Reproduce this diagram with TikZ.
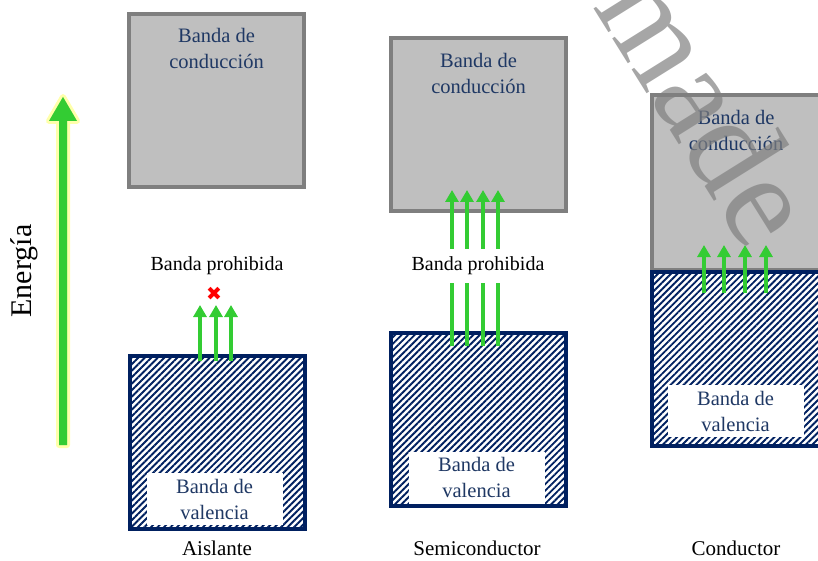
\documentclass[tikz,border=0pt]{standalone}
\usepackage{fontspec}
\setmainfont{Liberation Serif}
\usetikzlibrary{arrows.meta,patterns.meta}
\definecolor{navy}{HTML}{002060}
\definecolor{txtblue}{HTML}{1F3864}
\definecolor{bandgray}{HTML}{BFBFBF}
\definecolor{edgegray}{HTML}{7F7F7F}
\definecolor{arrgreen}{HTML}{33CC33}
\definecolor{glow}{HTML}{FFFF66}
\newfontfamily\symfont{DejaVu Sans}
\begin{document}
\begin{tikzpicture}[x=1pt,y=-1pt,
  condband/.style={draw=edgegray, line width=4pt, fill=bandgray, minimum width=175pt, minimum height=173pt, inner sep=0pt, outer sep=0pt, anchor=north west},
  valband/.style={draw=navy, line width=4pt, pattern={Lines[angle=45,distance=4.6pt,line width=1.9pt]}, pattern color=navy, minimum width=175pt, minimum height=173pt, inner sep=0pt, outer sep=0pt, anchor=north west},
  bandtext/.style={text=txtblue, align=center, inner sep=0pt, font=\fontsize{20.5}{26}\selectfont},
  vallabel/.style={bandtext, fill=white, minimum width=136pt, minimum height=52pt},
  gaplabel/.style={fill=white, inner sep=0pt, minimum width=150pt, minimum height=34pt, font=\fontsize{20}{22}\selectfont},
  matlabel/.style={inner sep=0pt, font=\fontsize{21}{23}\selectfont},
  elec/.style={draw=arrgreen, line width=4pt, -{Triangle[width=13pt,length=12pt]}},
]
\useasboundingbox (0,0) rectangle (818,561);

% Energy axis
\coordinate (ebot) at (63,445);
\coordinate (etop) at (63,97);
\path[draw=glow, line width=6pt, line join=round, opacity=0.55, fill=arrgreen]
  (59,445) -- (59,121) -- (49,121) -- (etop) -- (77,121) -- (67,121) -- (67,445) -- cycle;
\fill[arrgreen] (59,445) -- (59,121) -- (49,121) -- (etop) -- (77,121) -- (67,121) -- (67,445) -- cycle;
\node[rotate=90, inner sep=0pt, font=\fontsize{30}{32}\selectfont] (energia) at (24,271) {Energía};

% Aislante
\node[condband] (c1) at (129,14) {};
\node[bandtext] (c1t) at (216.5,48) {Banda de\\conducción};
\node[valband] (v1) at (130,356) {};
\node[vallabel] (v1t) at (214.5,499) {Banda de\\valencia};
\node[gaplabel] (g1) at (217,266) {Banda prohibida};
\node[inner sep=0pt, text=red, font=\symfont\fontsize{19}{19}\selectfont] (x1) at (214,294) {✖};
\foreach \i/\x in {1/200,2/216,3/231}{
  \coordinate (a1s\i) at (\x,361);
  \coordinate (a1e\i) at (\x,305);
  \draw[elec] (a1s\i) -- (a1e\i);
}
\node[matlabel] (m1) at (217,548) {Aislante};

% Semiconductor
\node[condband] (c2) at (391,38) {};
\node[bandtext] (c2t) at (478.5,73) {Banda de\\conducción};
\node[valband] (v2) at (391,333) {};
\foreach \i/\x in {1/452,2/467,3/483,4/498}{
  \coordinate (a2s\i) at (\x,346);
  \coordinate (a2e\i) at (\x,190);
  \draw[elec] (a2s\i) -- (a2e\i);
}
\node[vallabel] (v2t) at (476.5,477.5) {Banda de\\valencia};
\node[gaplabel] (g2) at (478,266) {Banda prohibida};
\node[matlabel] (m2) at (477,548) {Semiconductor};

% Conductor
\node[condband, minimum height=175pt] (c3) at (652,95) {};
\node[bandtext] (c3t) at (736,130) {Banda de\\conducción};
\node[valband, minimum height=174pt] (v3) at (652,272) {};
\foreach \i/\x in {1/704,2/724,3/745,4/766}{
  \coordinate (a3s\i) at (\x,293);
  \coordinate (a3e\i) at (\x,245);
  \draw[elec] (a3s\i) -- (a3e\i);
}
\node[vallabel] (v3t) at (735.5,411) {Banda de\\valencia};
\node[matlabel] (m3) at (736,548) {Conductor};

% watermark
\node[rotate=-58, text=black!50, opacity=0.7, inner sep=0pt, anchor=base, font=\fontsize{135}{135}\selectfont] (wm) at (670,130) {made};
\end{tikzpicture}
\end{document}
